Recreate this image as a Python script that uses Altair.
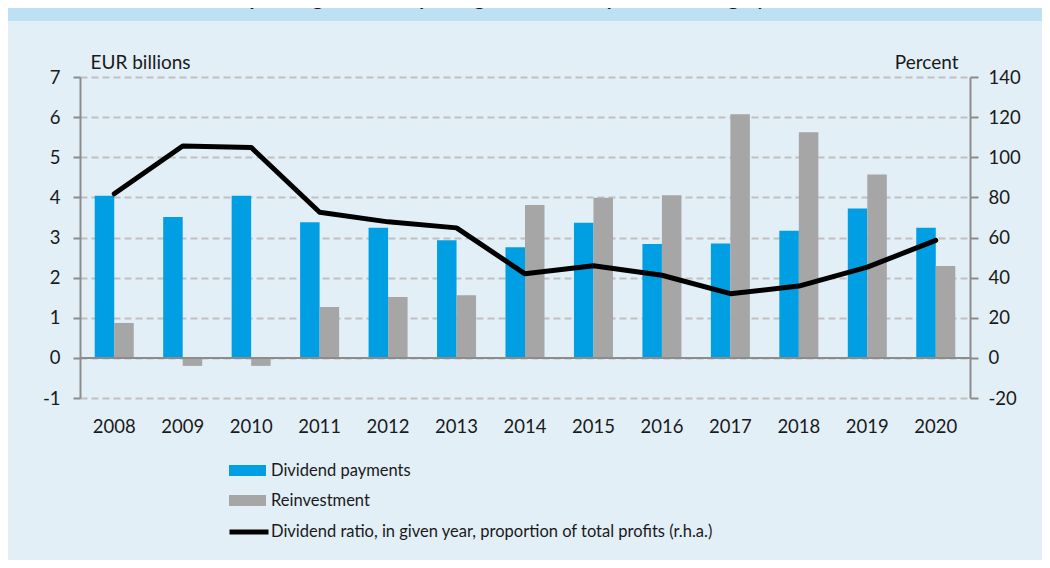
import altair as alt
import pandas as pd

years = ["2008", "2009", "2010", "2011", "2012", "2013", "2014",
         "2015", "2016", "2017", "2018", "2019", "2020"]
dividends = [4.04, 3.51, 4.04, 3.38, 3.24, 2.93, 2.76, 3.37, 2.84, 2.85, 3.17, 3.72, 3.24]
reinvestment = [0.87, -0.20, -0.20, 1.27, 1.52, 1.56, 3.81, 3.99, 4.05, 6.07, 5.62, 4.57, 2.29]
ratio = [81.8, 105.6, 104.9, 72.6, 67.8, 64.8, 41.9, 45.9, 41.2, 32.0, 35.8, 45.2, 58.6]

series_names = ["Dividend payments", "Reinvestment"]
line_name = "Dividend ratio, in given year, proportion of total profits (r.h.a.)"
title_text = "Chart 23: Distribution of profits generated by foreign-owned companies in Hungary"

FONT = "Lato"
TXT = "#1a1a1a"
AXC = "#8c8c8c"

bars_df = pd.DataFrame({
    "year": years * 2,
    "series": [series_names[0]] * len(years) + [series_names[1]] * len(years),
    "value": dividends + reinvestment,
})
line_df = pd.DataFrame({"year": years, "ratio": ratio, "label": line_name})

xscale = alt.Scale(paddingInner=0.43, paddingOuter=0.215)
xaxis = alt.Axis(title=None, labelAngle=0, ticks=False, domain=False, labelPadding=19,
                 labelFontSize=18.5, labelFont=FONT, labelColor=TXT)

bars = alt.Chart(bars_df).mark_bar().encode(
    x=alt.X("year:N", scale=xscale, axis=xaxis),
    xOffset=alt.XOffset("series:N", sort=series_names, scale=alt.Scale(paddingInner=0)),
    y=alt.Y("value:Q",
            scale=alt.Scale(domain=[-1, 7], nice=False),
            axis=alt.Axis(values=list(range(-1, 8)), labelExpr="'' + datum.value",
                          title="EUR billions", titleAngle=0,
                          titleAlign="left", titleX=10, titleY=-15, titleBaseline="middle",
                          titleFont=FONT, titleFontSize=19, titleFontWeight="normal",
                          titleColor=TXT, labelFont=FONT, labelFontSize=18.5,
                          labelColor=TXT, labelPadding=13, tickSize=7, tickColor=AXC,
                          tickWidth=2, domainColor=AXC, domainWidth=2,
                          grid=True, gridColor="#c0c0c0", gridDash=[7, 4], gridWidth=2)),
    color=alt.Color("series:N",
                    scale=alt.Scale(domain=series_names, range=["#009FE3", "#A6A6A6"]),
                    legend=alt.Legend(title=None, orient="none", legendX=149, legendY=375,
                                      symbolType="M-1,-0.3H1V0.3H-1Z", symbolSize=1369,
                                      symbolStrokeWidth=0, labelOffset=5, rowPadding=3,
                                      labelFont=FONT, labelFontSize=16.5, labelColor=TXT,
                                      labelLimit=600)),
)

zero = alt.Chart(alt.Data(values=[{"z": 0}])).mark_rule(color=AXC, strokeWidth=2).encode(
    y=alt.Y("z:Q"),
    x=alt.value(0),
    x2=alt.value(890),
)

left = alt.layer(bars, zero)

line = alt.Chart(line_df).mark_line(strokeWidth=5, strokeCap="round", strokeJoin="round").encode(
    x=alt.X("year:N", scale=xscale, axis=xaxis),
    y=alt.Y("ratio:Q",
            scale=alt.Scale(domain=[-20, 140], nice=False),
            axis=alt.Axis(orient="right", values=list(range(-20, 141, 20)),
                          labelExpr="'' + datum.value", title="Percent",
                          titleAngle=0, titleAlign="right", titleX=-12, titleY=-15,
                          titleBaseline="middle", titleFont=FONT, titleFontSize=19,
                          titleFontWeight="normal", titleColor=TXT, labelFont=FONT,
                          labelFontSize=18.5, labelColor=TXT, labelPadding=10, tickSize=8,
                          tickColor=AXC, tickWidth=2, domainColor=AXC, domainWidth=2,
                          grid=False)),
    stroke=alt.Stroke("label:N", scale=alt.Scale(range=["#000000"]),
                      legend=alt.Legend(title=None, orient="none", legendX=147, legendY=433,
                                        symbolType="stroke", symbolSize=1521,
                                        symbolStrokeWidth=5, labelOffset=0,
                                        labelFont=FONT, labelFontSize=16.5, labelColor=TXT,
                                        labelLimit=700)),
)

band = alt.Chart(alt.Data(values=[{}])).mark_rect(color="#BDE0F3").encode(
    x=alt.value(-72), x2=alt.value(962), y=alt.value(-69), y2=alt.value(-56)
)
title = alt.Chart(alt.Data(values=[{}])).mark_text(
    align="left", baseline="alphabetic", font=FONT, fontSize=20, fontWeight="bold",
    color=TXT
).encode(x=alt.value(-53), y=alt.value(-72), text=alt.value(title_text))

chart = alt.layer(band, title, left, line).resolve_scale(
    y="independent", color="independent", stroke="independent"
).properties(
    width=890, height=321,
    autosize=alt.AutoSizeParams(type="none"),
    padding={"left": 72, "top": 69, "right": 72, "bottom": 162},
).configure(background="#E2EFF7").configure_view(stroke=None)

chart.save("out.html", embed_options={"renderer": "svg", "actions": False})
